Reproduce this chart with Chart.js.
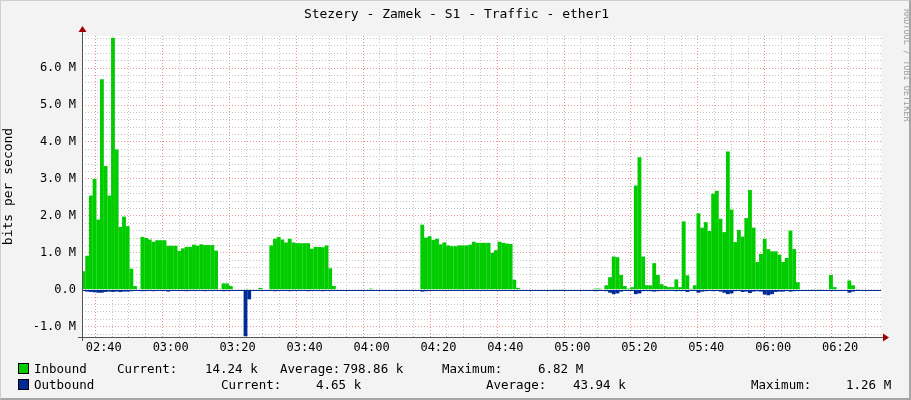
<!DOCTYPE html>
<html><head><meta charset="utf-8">
<script src="https://cdn.jsdelivr.net/npm/chart.js@4"></script>
<style>
html,body{margin:0;padding:0;background:#f3f3f3;}
#wrap{position:relative;width:911px;height:400px;overflow:hidden;box-sizing:border-box;border-right:2px solid #a6a6a6;border-bottom:2px solid #a6a6a6;border-top:1px solid #cfcfcf;border-left:1px solid #cfcfcf;}
canvas{position:absolute;left:0;top:0;}
.t{position:absolute;font-family:"DejaVu Sans Mono",monospace;color:#000;white-space:pre;}
.sw{position:absolute;width:9px;height:9px;border:1px solid #000;}
</style></head><body>
<div id="wrap">
<canvas id="c" width="911" height="400"></canvas>
<div class="t" style="left:0;width:911px;text-align:center;top:5px;font-size:13px;">Stezery - Zamek - S1 - Traffic - ether1</div>
<div class="t" style="left:897px;top:8px;font-size:8.5px;color:#a0a0a0;transform-origin:0 0;transform:translate(14px,0) rotate(90deg);">RRDTOOL / TOBI OETIKER</div>
<div class="sw" style="left:17px;top:362px;background:#00cc00"></div>
<div class="sw" style="left:17px;top:378px;background:#002a97"></div>
<div class="t" style="left:33px;top:360px;font-size:12.5px;">Inbound</div>
<div class="t" style="left:116px;top:360px;font-size:12.5px;">Current:</div>
<div class="t" style="left:204px;top:360px;font-size:12.5px;">14.24 k</div>
<div class="t" style="left:279px;top:360px;font-size:12.5px;">Average:</div>
<div class="t" style="left:342px;top:360px;font-size:12.5px;">798.86 k</div>
<div class="t" style="left:441px;top:360px;font-size:12.5px;">Maximum:</div>
<div class="t" style="left:537px;top:360px;font-size:12.5px;">6.82 M</div>
<div class="t" style="left:33px;top:376px;font-size:12.5px;">Outbound</div>
<div class="t" style="left:220px;top:376px;font-size:12.5px;">Current:</div>
<div class="t" style="left:315px;top:376px;font-size:12.5px;">4.65 k</div>
<div class="t" style="left:485px;top:376px;font-size:12.5px;">Average:</div>
<div class="t" style="left:572px;top:376px;font-size:12.5px;">43.94 k</div>
<div class="t" style="left:750px;top:376px;font-size:12.5px;">Maximum:</div>
<div class="t" style="left:845px;top:376px;font-size:12.5px;">1.26 M</div>
</div>
<script>
// time axis in minutes after 02:00; samples every 1.1 min starting at 02:33:57
const startMinute = 33.95;
const stepMinutes = 1.1;
const xLabelMinutes = [40,60,80,100,120,140,160,180,200,220,240,260];
const xLabels = ["02:40","03:00","03:20","03:40","04:00","04:20","04:40","05:00","05:20","05:40","06:00","06:20"];
const yLabelValues = [-1,0,1,2,3,4,5,6];
const yLabels = ["-1.0 M","0.0","1.0 M","2.0 M","3.0 M","4.0 M","5.0 M","6.0 M"];
// Inbound, Mbit/s
const inbound = [
0.5,0.92,2.55,3.0,1.9,5.7,3.35,2.55,6.82,3.8,1.7,1.98,1.72,0.57,0.1,
0,
1.43,1.40,1.36,1.30,1.34,1.34,1.34,1.19,1.19,1.19,1.05,1.12,1.16,1.16,1.22,1.19,1.23,1.21,1.21,1.21,1.06,
0,0.17,0.17,0.1,0,0,0,0.02,0.02,0,0,0.05,0,0,
1.2,1.38,1.43,1.36,1.28,1.38,1.28,1.26,1.26,1.26,1.26,1.11,1.16,1.16,1.15,1.2,0.58,0.1,
0,0,0,0,0,0,0,0,0,
0.03,
0,0,0,0,0,0,0,0,0,0,0,0,0,
1.76,1.41,1.45,1.35,1.38,1.23,1.28,1.2,1.18,1.18,1.2,1.2,1.2,1.22,1.3,1.27,1.27,1.27,1.27,1.0,1.07,1.3,1.27,1.25,1.24,0.27,0.05,
0,0,0,0,0,0,0,0,0,0.02,0,0.02,0,0,0,0,0,0,0,0,
0.03,0.03,0,0.12,0.34,0.9,0.88,0.4,0.1,0.03,0.07,2.82,3.59,0.9,0.12,0.12,0.72,0.4,0.15,0.1,0.07,0.07,0.28,0.07,1.85,0.39,0.02,0.12,
2.07,1.68,1.83,1.59,2.6,2.68,1.92,1.56,3.74,2.17,1.29,1.62,1.44,1.94,2.7,1.68,0.75,0.97,1.38,1.1,1.04,1.04,0.95,0.75,0.86,1.6,1.1,0.2,
0,0,0,0.02,0,0.02,0,0,0.4,0.07,0,0,0,0.25,0.12,0.014
];
// Outbound, Mbit/s (drawn downward)
const outbound = [
-0.02,-0.05,-0.06,-0.07,-0.08,-0.08,-0.06,-0.05,-0.06,-0.05,-0.06,-0.05,-0.05,-0.04,-0.01,
0,
-0.04,-0.03,-0.03,-0.04,-0.03,-0.03,-0.03,-0.05,-0.03,-0.03,-0.03,-0.03,-0.04,-0.03,-0.03,-0.03,-0.03,-0.04,-0.03,-0.03,-0.03,
0,-0.04,0,0,0,0,0,-1.26,-0.26,0,0,0,0,0,
-0.03,-0.04,-0.03,-0.03,-0.03,-0.04,-0.03,-0.03,-0.03,-0.03,-0.04,-0.03,-0.03,-0.03,-0.04,-0.03,-0.02,0,
0,0,0,-0.03,0,0,0,0,0,
0,
0,0,0,0,0,0,0,0,0,0,0,0,0,
-0.05,-0.04,-0.02,-0.02,-0.02,-0.02,-0.02,-0.02,-0.02,-0.02,-0.03,-0.03,-0.03,-0.02,-0.02,-0.02,-0.03,-0.03,-0.02,-0.02,-0.02,-0.02,-0.03,-0.02,-0.02,-0.03,0,
0,0,0,0,0,0,0,0,0,0,0,0,0,0,0,0,0,0,0,0,
-0.04,-0.03,0,-0.04,-0.08,-0.12,-0.1,-0.05,-0.02,0,-0.03,-0.12,-0.1,-0.04,-0.03,-0.04,-0.05,-0.04,-0.03,-0.02,-0.02,-0.02,-0.04,-0.02,-0.03,-0.06,-0.02,-0.03,
-0.08,-0.05,-0.04,-0.03,-0.04,-0.03,-0.05,-0.08,-0.12,-0.1,-0.04,-0.03,-0.06,-0.05,-0.09,-0.05,-0.04,-0.05,-0.13,-0.15,-0.12,-0.06,-0.05,-0.05,-0.03,-0.05,-0.04,-0.02,
0,0,0,-0.02,0,-0.02,0,0,-0.03,-0.02,0,0,0,-0.08,-0.05,-0.004
];
const toPts = arr => arr.map((v,i)=>({x:startMinute+stepMinutes*i, y:v}));
const MONO = "'DejaVu Sans Mono', monospace";

const deco = {
  id:'deco',
  beforeDraw(ch){
    const {ctx, chartArea:a} = ch;
    ctx.save(); ctx.fillStyle='#fff'; ctx.fillRect(a.left,a.top,a.right-a.left,a.bottom-a.top); ctx.restore();
  },
  afterDatasetsDraw(ch){
    const {ctx, chartArea:a, scales:{y}} = ch;
    const y0 = Math.round(y.getPixelForValue(0))+0.5;
    ctx.save();
    ctx.strokeStyle='#002a97'; ctx.lineWidth=1;
    ctx.beginPath(); ctx.moveTo(a.left,y0); ctx.lineTo(a.right,y0); ctx.stroke();
    ctx.strokeStyle='#555';
    ctx.beginPath(); ctx.moveTo(a.left+0.5,a.bottom+4); ctx.lineTo(a.left+0.5,a.top-6); ctx.stroke();
    ctx.beginPath(); ctx.moveTo(a.left-4,a.bottom+0.5); ctx.lineTo(a.right+4,a.bottom+0.5); ctx.stroke();
    ctx.fillStyle='#a00000';
    ctx.beginPath(); ctx.moveTo(a.left-3.5,a.top-4); ctx.lineTo(a.left+4.5,a.top-4); ctx.lineTo(a.left+0.5,a.top-10); ctx.fill();
    ctx.beginPath(); ctx.moveTo(a.right+2,a.bottom-3.5); ctx.lineTo(a.right+2,a.bottom+4.5); ctx.lineTo(a.right+8,a.bottom+0.5); ctx.fill();
    ctx.restore();
  }
};

new Chart(document.getElementById('c'), {
  type:'bar',
  data:{datasets:[
    {label:'Inbound', data:toPts(inbound), backgroundColor:'#00cc00', grouped:false, barPercentage:1.04, categoryPercentage:1, borderWidth:0},
    {label:'Outbound', data:toPts(outbound), backgroundColor:'#002a97', grouped:false, barPercentage:1.04, categoryPercentage:1, borderWidth:0}
  ]},
  plugins:[deco],
  options:{
    responsive:false, animation:false, devicePixelRatio:1,
    layout:{padding:{top:35,right:31,bottom:42,left:0}},
    plugins:{legend:{display:false}, tooltip:{enabled:false}},
    scales:{
      x:{type:'linear', min:33.5, max:272.2, offset:false,
        afterBuildTicks(s){ const t=[]; for(let m=35;m<=270;m+=5) t.push({value:m}); s.ticks=t; },
        afterFit(s){ s.height=22; },
        grid:{drawTicks:false, color:c=>(c.tick && c.tick.value%20===0)?'rgba(230,120,120,0.8)':'rgba(190,190,190,0.9)'},
        border:{display:false, dash:[1,2]},
        ticks:{autoSkip:false, maxRotation:0, padding:4, color:'#000', font:{family:MONO,size:12},
          callback:v=>{const k=xLabelMinutes.indexOf(v); return k>=0?xLabels[k]:'';}}
      },
      y:{min:-1.28, max:6.87,
        afterBuildTicks(s){ const t=[]; for(let k=-6;k<=34;k++) t.push({value:k/5}); s.ticks=t; },
        afterFit(s){ s.width=81; },
        grid:{drawTicks:false, color:c=>(c.tick && Math.abs(c.tick.value-Math.round(c.tick.value))<1e-6 && Math.round(c.tick.value)!==0)?'rgba(230,120,120,0.8)':'rgba(190,190,190,0.9)'},
        border:{display:false, dash:[1,2]},
        title:{display:true, text:'bits per second', color:'#000', font:{family:MONO,size:13}, padding:{top:0,bottom:6}},
        ticks:{autoSkip:false, padding:6, color:'#000', font:{family:MONO,size:12},
          callback:v=>{const k=yLabelValues.findIndex(z=>Math.abs(z-v)<1e-6); return k>=0?yLabels[k]:'';}}
      }
    }
  }
});
</script>
</body></html>
